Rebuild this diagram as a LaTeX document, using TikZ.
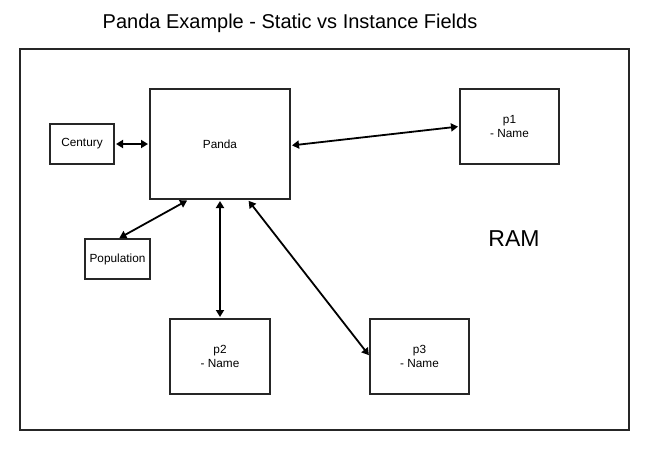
\documentclass[tikz,border=0pt]{standalone}
\usepackage{fontspec}
\setmainfont{Liberation Sans}
\usetikzlibrary{arrows.meta,calc}
\begin{document}
\begin{tikzpicture}[x=1pt,y=-1pt,
  box/.style={draw=black!85,line width=2pt,minimum width=#1,inner sep=0pt,align=center,font=\fontsize{11.8}{13.5}\selectfont},
  conn/.style={line width=1.8pt,{Triangle[length=7pt,width=8pt]}-{Triangle[length=7pt,width=8pt]},shorten <=1pt,shorten >=1pt}]
\useasboundingbox (0,0) rectangle (650,450);
\node[font=\fontsize{20}{22}\selectfont] (title) at (290,23) {Panda Example - Static vs Instance Fields};
\node[draw=black!85,line width=2pt,minimum width=609pt,minimum height=381pt] (ram) at (324.5,239.5) {};
\node[font=\fontsize{23}{25}\selectfont] (ramlabel) at (514,239) {RAM};
\node[box=140pt,minimum height=110pt] (panda) at (220,144) {Panda};
\node[box=64pt,minimum height=40pt] (century) at (82,144) {Century};
\node[box=65pt,minimum height=40pt] (pop) at (117.5,259) {Population};
\node[box=99pt,minimum height=75pt] (p1) at (509.5,126.5) {p1\\- Name};
\node[box=100pt,minimum height=75pt] (p2) at (220,356.5) {p2\\- Name};
\node[box=99pt,minimum height=75pt] (p3) at (419.5,356.5) {p3\\- Name};
\draw[conn] (century.east) -- (panda.west);
\coordinate (pe) at ($(panda.east)+(0,1.5)$);
\draw[conn] (pe) -- (p1.west);
\coordinate (pb1) at (188,200);
\draw[conn] (pb1) -- (118.5,238.5);
\draw[conn] (panda.south) -- (p2.north);
\coordinate (pb3) at (248,200);
\draw[conn] (pb3) -- (369.5,356);
\end{tikzpicture}
\end{document}
